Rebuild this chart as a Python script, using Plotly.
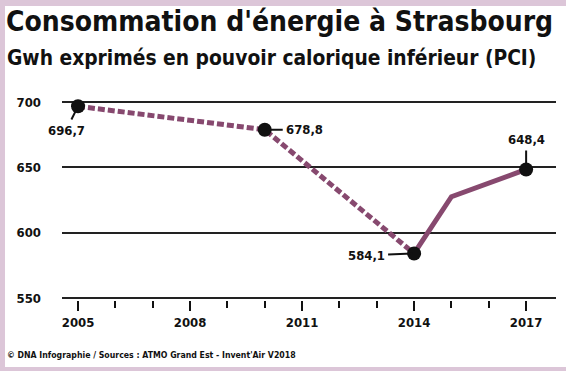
import plotly.graph_objects as go

# Data
years_dashed = [2005, 2010, 2014]
values_dashed = [696.7, 678.8, 584.1]
years_solid = [2014, 2015, 2017]
values_solid = [584.1, 627.5, 648.4]
marker_years = [2005, 2010, 2014, 2017]
marker_values = [696.7, 678.8, 584.1, 648.4]
marker_labels = ["696,7", "678,8", "584,1", "648,4"]
y_ticks = [550, 600, 650, 700]
x_ticks = [2005, 2008, 2011, 2014, 2017]

W, H = 566, 371
L, R, T, B = 62, 10, 88, 71
PW, PH = W - L - R, H - T - B

def px(x):
    return (x - L) / PW

def py(y):
    return (H - B - y) / PH

LINE = "#87496f"
FONT = "Liberation Sans Narrow, DejaVu Sans Condensed, Arial Narrow, sans-serif"

fig = go.Figure()
fig.add_trace(go.Scatter(x=years_dashed, y=values_dashed, mode="lines",
                         line=dict(color=LINE, width=5, dash="7px,3px"),
                         hoverinfo="skip", showlegend=False))
fig.add_trace(go.Scatter(x=years_solid, y=values_solid, mode="lines",
                         line=dict(color=LINE, width=5),
                         hoverinfo="skip", showlegend=False))
fig.add_trace(go.Scatter(x=marker_years, y=marker_values, mode="markers",
                         marker=dict(color="#111111", size=14),
                         hoverinfo="skip", showlegend=False))

offsets = [(-12, 24), (40, 0), (-48, 2), (0, -30)]
for xv, yv, lab, (ax, ay) in zip(marker_years, marker_values, marker_labels, offsets):
    fig.add_annotation(x=xv, y=yv, text="<b>" + lab + "</b>", showarrow=True,
                       arrowhead=0, arrowwidth=2, arrowcolor="#111111",
                       ax=ax, ay=ay, standoff=2, startstandoff=2,
                       font=dict(family=FONT, size=13, color="#111111"))

annos = [
    dict(text="<b>Consommation d'énergie à Strasbourg</b>", x=px(4), y=py(22), size=28),
    dict(text="<b>Gwh exprimés en pouvoir calorique inférieur (PCI)</b>", x=px(5), y=py(58), size=20.8),
    dict(text="<b>© DNA Infographie / Sources : ATMO Grand Est - Invent'Air V2018</b>", x=px(5), y=py(355), size=8.7),
]
for a in annos:
    fig.add_annotation(text=a["text"], x=a["x"], y=a["y"], xref="paper", yref="paper",
                       xanchor="left", yanchor="middle", showarrow=False,
                       font=dict(family=FONT, size=a["size"], color="#111111"))

frame = "#dcc6d8"
for x0, y0, x1, y1 in [(0, 0, W, 6), (0, 0, 5, H), (0, H - 4, W, H)]:
    fig.add_shape(type="rect", xref="paper", yref="paper",
                  x0=px(x0), x1=px(x1), y0=py(y0), y1=py(y1),
                  fillcolor=frame, line=dict(width=0), layer="below")

fig.update_layout(
    width=W, height=H, margin=dict(l=L, r=R, t=T, b=B),
    paper_bgcolor="white", plot_bgcolor="white",
    font=dict(family=FONT, color="#111111"),
    xaxis=dict(range=[2004.571, 2017.80], tickvals=x_ticks, ticktext=[str(v) for v in x_ticks],
               showgrid=False, zeroline=False, showline=False,
               ticks="outside", ticklen=10, tickwidth=2, tickcolor="#111111",
               tickfont=dict(family=FONT, size=13, weight="bold"),
               minor=dict(dtick=1, tick0=2005, ticks="outside", ticklen=7, tickwidth=2,
                          tickcolor="#111111", showgrid=False)),
    yaxis=dict(range=[548.5, 710.7], tickvals=y_ticks, showgrid=True, gridcolor="#222222",
               gridwidth=2, zeroline=False, showline=False, ticks="",
               ticklabelstandoff=20,
               tickfont=dict(family=FONT, size=13, weight="bold")),
)
fig.write_html("out.html")
